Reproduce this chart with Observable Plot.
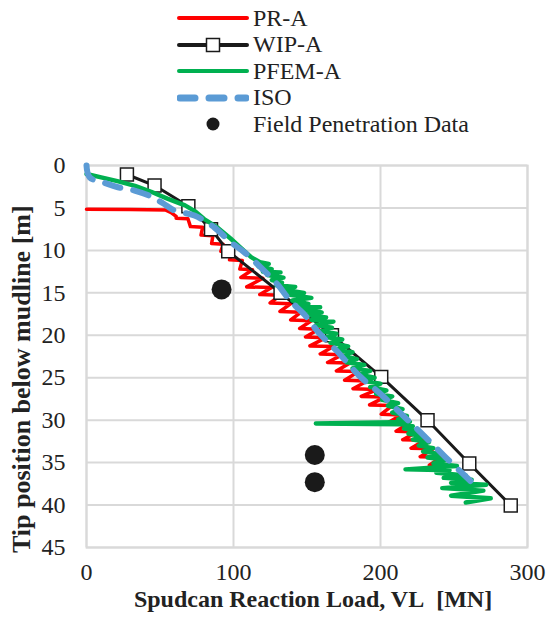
<!DOCTYPE html>
<html><head><meta charset="utf-8">
<script src="https://cdn.jsdelivr.net/npm/d3@7"></script>
<script src="https://cdn.jsdelivr.net/npm/@observablehq/plot@0.6"></script>
<style>
body{margin:0;background:#fff;}
#wrap{position:relative;width:547px;height:635px;overflow:hidden;}
#legend{position:absolute;left:177px;top:5px;font-family:"Liberation Serif","Times New Roman",Times,"DejaVu Serif",serif;font-size:24px;color:#222;}
.row{display:flex;align-items:center;height:26.5px;}
.row svg{width:72px;height:26px;margin-right:4px;flex:none;}
[aria-label="x-axis label"],[aria-label="y-axis label"]{font-weight:bold;white-space:pre;}
[aria-label="y-axis label"]{font-size:26px;}
</style></head>
<body>
<div id="wrap"><div id="chart"></div><div id="legend"></div></div>
<script>
// ---- data ----
const xTicks = [0, 100, 200, 300];
const yTicks = [0, 5, 10, 15, 20, 25, 30, 35, 40, 45];

// WIP-A (black, square markers)
const wipLoad  = [27.5, 46.3, 69.3, 84.7, 96.4, 132, 167, 200.5, 232, 260.4, 288.6];
const wipDepth = [1.06, 2.36, 4.8, 7.5, 10.1, 15.0, 20.0, 24.9, 30.0, 35.1, 40.05];

// ISO (blue dashed)
const isoLoad  = [0, 2.2, 12.4, 21.4, 32.7, 44, 52, 59.8, 73.4, 87, 98.2, 107.2, 118.5, 129.8, 138.9, 147.9, 158, 170, 185.7, 199.3, 215, 227.6, 244.5, 261.4];
const isoDepth = [0, 1.4, 2.05, 2.56, 2.95, 3.66, 4.45, 5.3, 5.9, 7.3, 9.05, 10.2, 12.0, 14.0, 16.0, 17.5, 19.7, 21.8, 24.8, 26.8, 29.4, 31.5, 34.4, 37.2];

// PR-A (red): initial plateau, then sawtooth steps (tip = left end, base = right end)
const prStartLoad  = [0, 30, 54, 58, 61];
const prStartDepth = [5.15, 5.18, 5.25, 5.6, 6.0];
const prStepDepth = [6.2, 7.2, 8.2, 9.2, 10.1, 11.1, 12.2, 13.2, 14.3, 15.2, 16.2, 17.2, 18.2, 19.2, 20.2, 21.25, 22.2, 23.2, 24.2, 25.3, 26.3, 27.2, 28.2, 29.3, 30.3, 31.3, 32.3, 33.3, 34.3, 35.3];
const prStepTip   = [61, 70.7, 77.9, 85.1, 91.4, 97.3, 104.3, 105, 109, 117.9, 124.9, 131.6, 138.9, 145, 149, 152, 159, 164, 170, 175.6, 181.3, 186.9, 192.6, 200.5, 205, 210.6, 215.1, 220.8, 227, 233.2];
const prStepBase  = [69, 79, 86, 93, 99, 106, 113, 120, 126, 132, 139, 146, 153, 158, 163, 168, 174, 179, 185, 191, 198, 203, 208, 214, 219, 225, 230, 236, 241, 243];

// PFEM-A (green, noisy)
const pfemLoad = [0, 10, 21, 33, 44, 55, 67, 74, 80, 89, 98, 105, 112,
  118, 124, 117, 126, 120, 132, 123, 134, 126, 133, 129, 142, 133, 148, 137, 153, 140, 151, 143, 159, 147, 160, 150, 163, 153, 168, 156, 167, 159, 170, 163, 174, 166, 178, 170, 181, 174, 184, 177, 189, 181, 193, 185, 196, 189, 200, 193, 204, 197, 208, 201, 212, 205, 215, 208, 218, 212, 220,
  156, 214, 222, 216, 226, 219, 230, 222, 233, 226, 236, 229, 242, 232, 245, 236, 252,
  217, 247, 238, 258, 243, 262, 248, 272, 242, 270, 248, 275, 258];
const pfemDepth = [1.0, 1.4, 1.85, 2.4, 3.1, 3.9, 4.7, 5.4, 6.3, 7.3, 8.6, 9.7, 10.8,
  11.4, 11.6, 11.9, 12.2, 12.5, 12.6, 12.9, 13.2, 13.5, 13.8, 14.1, 14.3, 14.6, 15.0, 15.2, 15.6, 15.9, 16.3, 16.6, 16.7, 17.0, 17.3, 17.6, 17.9, 18.2, 18.4, 18.8, 19.1, 19.5, 19.8, 20.2, 20.5, 20.9, 21.3, 21.7, 22.0, 22.4, 22.8, 23.2, 23.5, 23.9, 24.2, 24.6, 25.0, 25.4, 25.7, 26.1, 26.5, 26.9, 27.2, 27.6, 28.0, 28.3, 28.7, 29.1, 29.5, 29.9, 30.2,
  30.4, 30.5, 30.7, 31.0, 31.3, 31.6, 31.9, 32.3, 32.6, 33.0, 33.3, 33.7, 34.0, 34.4, 34.7, 35.1, 35.4,
  35.8, 35.9, 36.2, 36.5, 36.8, 37.0, 37.4, 37.6, 38.0, 38.3, 38.9, 39.2, 39.7];

// Field penetration data
const fieldLoad  = [91.9, 155.3, 155.3];
const fieldDepth = [14.6, 34.1, 37.3];

const seriesNames = ["PR-A", "WIP-A", "PFEM-A", "ISO", "Field Penetration Data"];
const colors = {red: "#ff0000", black: "#1a1a1a", green: "#00b050", blue: "#5b9bd5"};

// ---- tables ----
const zip = (xs, ys) => xs.map((v, i) => ({v, d: ys[i]}));
const wip = zip(wipLoad, wipDepth);
const iso = zip(isoLoad, isoDepth);
const pfem = zip(pfemLoad, pfemDepth);
const field = zip(fieldLoad, fieldDepth);
const pr = zip(prStartLoad, prStartDepth);
prStepDepth.forEach((d, i) => {
  pr.push({v: prStepTip[i], d});
  pr.push({v: prStepBase[i], d: d + 0.08});
});

const font = '"Liberation Serif","Times New Roman",Times,"DejaVu Serif",serif';
const nb = "\u00a0";

const chart = Plot.plot({
  width: 547, height: 635,
  marginTop: 165, marginBottom: 88, marginLeft: 86, marginRight: 20,
  style: {fontFamily: font, fontSize: "24px", color: "#222", background: "#fff"},
  x: {domain: [0, 300]},
  y: {domain: [0, 45], reverse: true},
  marks: [
    Plot.gridX(xTicks, {stroke: "#d9d9d9", strokeOpacity: 1, strokeWidth: 2}),
    Plot.gridY(yTicks, {stroke: "#d9d9d9", strokeOpacity: 1, strokeWidth: 2}),
    Plot.frame({stroke: "#d9d9d9", strokeWidth: 2}),
    Plot.axisX(xTicks, {tickSize: 0, tickPadding: 15, fontSize: 24, label: nb + nb + "Spudcan Reaction Load, VL" + nb + " [MN]", labelAnchor: "center", labelOffset: 59, labelArrow: false}),
    Plot.axisY(yTicks, {tickSize: 0, tickPadding: 21, fontSize: 24, label: "Tip position below mudline [m]" + nb.repeat(7), labelAnchor: "center", labelOffset: 75, labelArrow: false}),
    Plot.line(pr, {x: "v", y: "d", stroke: colors.red, strokeWidth: 3.5}),
    Plot.line(wip, {x: "v", y: "d", stroke: colors.black, strokeWidth: 3}),
    Plot.dot(wip, {x: "v", y: "d", symbol: "square", r: 7.3, fill: "#fff", stroke: colors.black, strokeWidth: 1.5}),
    Plot.line(pfem, {x: "v", y: "d", stroke: colors.green, strokeWidth: 4.4, strokeLinejoin: "round"}),
    Plot.line(iso, {x: "v", y: "d", stroke: colors.blue, strokeWidth: 6, strokeDasharray: "16,13", strokeLinecap: "round", curve: "catmull-rom"}),
    Plot.dot(field, {x: "v", y: "d", r: 10, fill: "#1a1a1a"})
  ]
});
document.getElementById("chart").appendChild(chart);

// ---- legend ----
const legendGlyphs = [
  `<line x1="2" y1="13" x2="70" y2="13" stroke="${colors.red}" stroke-width="4" stroke-linecap="round"/>`,
  `<line x1="2" y1="13" x2="70" y2="13" stroke="${colors.black}" stroke-width="4" stroke-linecap="round"/><rect x="29.5" y="6.5" width="13" height="13" fill="#fff" stroke="${colors.black}" stroke-width="1.5"/>`,
  `<line x1="2" y1="13" x2="70" y2="13" stroke="${colors.green}" stroke-width="4" stroke-linecap="round"/>`,
  `<line x1="3" y1="13" x2="69" y2="13" stroke="${colors.blue}" stroke-width="7" stroke-dasharray="15,14" stroke-linecap="round"/>`,
  `<circle cx="36" cy="13" r="6.5" fill="#1a1a1a"/>`
];
document.getElementById("legend").innerHTML = seriesNames.map((n, i) =>
  `<div class="row"><svg viewBox="0 0 72 26">${legendGlyphs[i]}</svg><span>${n}</span></div>`).join("");
</script>
</body></html>
